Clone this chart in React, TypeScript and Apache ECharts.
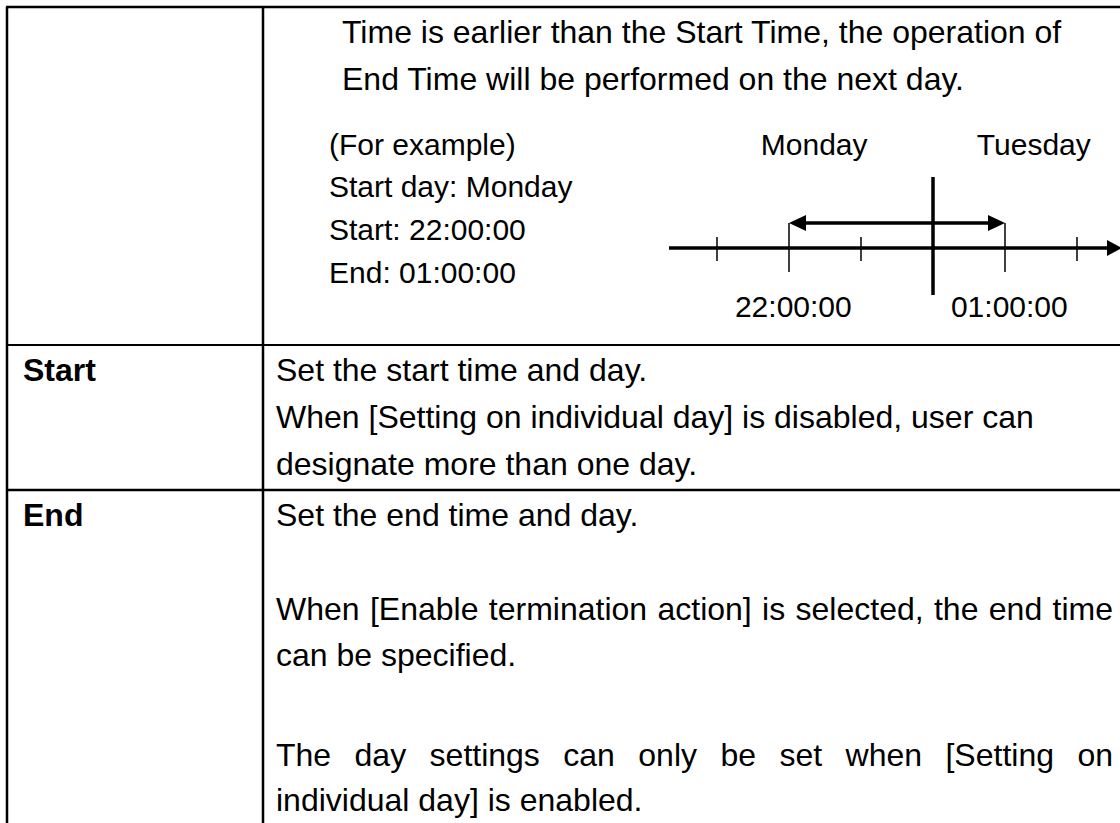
import React, { useEffect, useRef } from "react";
import * as echarts from "echarts";

// ---------- content ----------
const introLines = [
  "Time is earlier than the Start Time, the operation of",
  "End Time will be performed on the next day.",
];
const exampleLines = ["(For example)", "Start day: Monday", "Start: 22:00:00", "End: 01:00:00"];

// timeline (hours on a continuous scale, 24 = midnight)
const tickHours = [21, 22, 23, 24, 25, 26];
const tickKinds = ["short", "long", "short", "midnight", "long", "short"];
const spanHours = [22, 25];
const dayLabels = ["Monday", "Tuesday"];
const dayLabelHours = [22.35, 25.4];
const timeLabels = ["22:00:00", "01:00:00"];
const timeLabelHours = [22.06, 25.06];

const rowHeaders = ["Start", "End"];
const startLines = [
  "Set the start time and day.",
  "When [Setting on individual day] is disabled, user can",
  "designate more than one day.",
];
const endLines = [
  "Set the end time and day.",
  "When [Enable termination action] is selected, the end time",
  "can be specified.",
  "The day settings can only be set when [Setting on",
  "individual day] is enabled.",
];
const endJustified = [false, true, false, true, false];

// ---------- layout / style ----------
const W = 1120;
const H = 823;
const FAMILY = "'Liberation Sans', Arial, Helvetica, sans-serif";
const INK = "#000";
const MAIN = 32;
const SMALL = 30;

const measureCtx = (() => {
  const c = document.createElement("canvas");
  return c.getContext("2d")!;
})();
function measure(t: string, font: string) {
  measureCtx.font = font;
  return measureCtx.measureText(t).width;
}

function txt(text: string, x: number, baseline: number, size: number, bold = false, align = "left") {
  return {
    type: "text",
    silent: true,
    style: {
      text,
      x,
      y: baseline - 0.3465 * size,
      font: `${bold ? "bold " : ""}${size}px ${FAMILY}`,
      fill: INK,
      align,
      verticalAlign: "middle",
    },
  };
}

function justified(text: string, left: number, right: number, baseline: number, size: number) {
  const font = `${size}px ${FAMILY}`;
  const words = text.split(" ");
  const widths = words.map((w) => measure(w, font));
  const sum = widths.reduce((a, b) => a + b, 0);
  const gap = (right - left - sum) / (words.length - 1);
  const out: any[] = [];
  let x = left;
  words.forEach((w, i) => {
    out.push(txt(w, x, baseline, size));
    x += widths[i] + gap;
  });
  return out;
}

function hline(x1: number, x2: number, y: number, w = 2) {
  return { type: "line", silent: true, shape: { x1, y1: y, x2, y2: y }, style: { stroke: INK, lineWidth: w } };
}
function vline(x: number, y1: number, y2: number, w = 2) {
  return { type: "line", silent: true, shape: { x1: x, y1, x2: x, y2 }, style: { stroke: INK, lineWidth: w } };
}

export default function App() {
  const ref = useRef<HTMLDivElement>(null);

  useEffect(() => {
    if (!ref.current) return;
    const chart = echarts.init(ref.current, null, { renderer: "svg", width: W, height: H });

    const LEFT = 7;
    const DIV = 263;
    const TOP = 7;
    const ROW1 = 345;
    const ROW2 = 490;
    const TEXT_X = 276;
    const RIGHT = 1113;

    const graphics: any[] = [
      hline(LEFT - 1, W, TOP, 2.5),
      vline(LEFT, TOP, H, 2.5),
      vline(DIV, TOP, H, 2.5),
      hline(LEFT, W, ROW1, 2),
      hline(LEFT, W, ROW2, 2.5),
    ];

    // row 1
    const introBase = [43, 90];
    introLines.forEach((l, i) => graphics.push(txt(l, 342, introBase[i], MAIN)));
    const exBase = [155, 197, 240, 283];
    exampleLines.forEach((l, i) => graphics.push(txt(l, 329, exBase[i], SMALL)));

    // row 2
    graphics.push(txt(rowHeaders[0], 23, 381, MAIN, true));
    const startBase = [381, 428, 475];
    startLines.forEach((l, i) => graphics.push(txt(l, TEXT_X, startBase[i], MAIN)));

    // row 3
    graphics.push(txt(rowHeaders[1], 23, 526, MAIN, true));
    const endBase = [526, 620, 666, 766, 811];
    endLines.forEach((l, i) => {
      if (endJustified[i]) graphics.push(...justified(l, TEXT_X, RIGHT, endBase[i], MAIN));
      else graphics.push(txt(l, TEXT_X, endBase[i], MAIN));
    });

    // timeline grid: 72 px per hour, left edge at 669, axis at y=248
    const gridLeft = 669;
    const gridWidth = W - gridLeft;
    const pxPerHour = 72;
    const xMin = 21 - (717 - gridLeft) / pxPerHour;
    const xMax = xMin + gridWidth / pxPerHour;

    const option: any = {
      animation: false,
      grid: { left: gridLeft, width: gridWidth, top: 148, height: 200 },
      xAxis: { type: "value", min: xMin, max: xMax, show: false },
      yAxis: { type: "value", min: -100, max: 100, show: false },
      graphic: { elements: graphics },
      series: [
        {
          // main axis with arrow
          type: "custom",
          silent: true,
          data: [[xMin, 0]],
          renderItem: (params: any, api: any) => {
            const cs = params.coordSys;
            const p = api.coord([xMin, 0]);
            const y = p[1];
            const tip = cs.x + cs.width + 2;
            const len = 15;
            return {
              type: "group",
              children: [
                { type: "line", shape: { x1: cs.x, y1: y, x2: tip - len + 2, y2: y }, style: { stroke: INK, lineWidth: 3.5 } },
                { type: "polygon", shape: { points: [[tip, y], [tip - len, y - 8], [tip - len, y + 8]] }, style: { fill: INK } },
              ],
            };
          },
        },
        {
          // ticks
          type: "custom",
          silent: true,
          data: tickHours.map((h, i) => [h, i]),
          renderItem: (params: any, api: any) => {
            const h = api.value(0);
            const kind = tickKinds[params.dataIndex];
            const p = api.coord([h, 0]);
            let up = 11, down = 13, w = 1.5;
            if (kind === "long") { up = 25; down = 24; }
            if (kind === "midnight") { up = 71; down = 47; w = 3.5; }
            return {
              type: "line",
              shape: { x1: p[0], y1: p[1] - up, x2: p[0], y2: p[1] + down },
              style: { stroke: INK, lineWidth: w },
            };
          },
        },
        {
          // double arrow between start and end
          type: "custom",
          silent: true,
          data: [spanHours],
          renderItem: (params: any, api: any) => {
            const a = api.coord([api.value(0), 0]);
            const b = api.coord([api.value(1), 0]);
            const y = a[1] - 25;
            const len = 17;
            const hw = 8;
            return {
              type: "group",
              children: [
                { type: "line", shape: { x1: a[0] + len - 2, y1: y, x2: b[0] - len + 2, y2: y }, style: { stroke: INK, lineWidth: 3.5 } },
                { type: "polygon", shape: { points: [[a[0], y], [a[0] + len, y - hw], [a[0] + len, y + hw]] }, style: { fill: INK } },
                { type: "polygon", shape: { points: [[b[0], y], [b[0] - len, y - hw], [b[0] - len, y + hw]] }, style: { fill: INK } },
              ],
            };
          },
        },
        {
          // day labels above, time labels below
          type: "custom",
          silent: true,
          data: [
            ...dayLabelHours.map((h, i) => [h, 0, i]),
            ...timeLabelHours.map((h, i) => [h, 1, i]),
          ],
          renderItem: (params: any, api: any) => {
            const h = api.value(0);
            const isTime = api.value(1) === 1;
            const idx = api.value(2);
            const p = api.coord([h, 0]);
            const baseline = isTime ? 317 : 155;
            const label = isTime ? timeLabels[idx] : dayLabels[idx];
            return {
              type: "text",
              style: {
                text: label,
                x: p[0],
                y: baseline - 0.3465 * SMALL,
                font: `${SMALL}px ${FAMILY}`,
                fill: INK,
                align: "center",
                verticalAlign: "middle",
              },
            };
          },
        },
      ],
    };

    chart.setOption(option);
    return () => chart.dispose();
  }, []);

  return (
    <div
      ref={ref}
      style={{ position: "absolute", left: 0, top: 0, width: W, height: H, background: "#fff" }}
    />
  );
}
